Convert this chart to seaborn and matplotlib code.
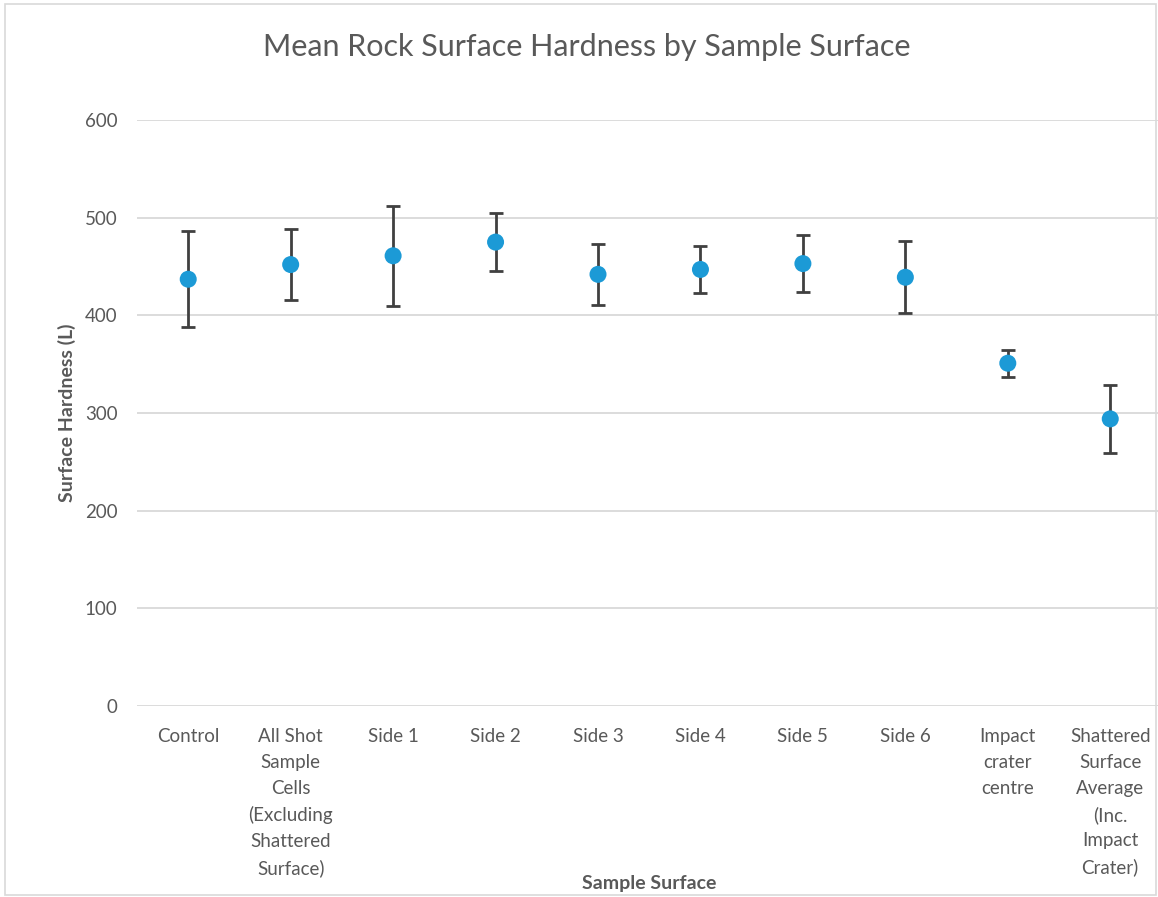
import numpy as np
import pandas as pd
import matplotlib
matplotlib.use("Agg")
import matplotlib.pyplot as plt
import seaborn as sns

# values
surfaces = ["Control",
            "All Shot\nSample\nCells\n(Excluding\nShattered\nSurface)",
            "Side 1", "Side 2", "Side 3", "Side 4", "Side 5", "Side 6",
            "Impact\ncrater\ncentre",
            "Shattered\nSurface\nAverage\n(Inc.\nImpact\nCrater)"]
mean_hardness = [437, 452, 461, 475, 442, 447, 453, 439, 351, 294]
error = [49, 36, 51, 30, 31, 24, 29, 37, 14, 35]

df = pd.DataFrame({"surface": surfaces, "hardness": mean_hardness, "err": error})

sns.set_theme(style="white")
plt.rcParams["font.family"] = ["Lato", "DejaVu Sans"]
grey = "#595959"

fig = plt.figure(figsize=(11.58, 8.97), dpi=100)
ax = fig.add_axes([0.1183, 0.2129, 0.8847, 0.6533])

ax.errorbar(np.arange(len(surfaces)), df["hardness"], yerr=df["err"],
            fmt="none", ecolor="#404040", elinewidth=2, capsize=5, capthick=2, zorder=2)
sns.scatterplot(data=df, x="surface", y="hardness", ax=ax, s=150,
                color="#1C9AD6", edgecolor="none", zorder=3)

ax.set_xlim(-0.5, len(surfaces) - 0.5)
ax.set_ylim(0, 600)
ax.set_yticks(range(0, 601, 100))
ax.yaxis.grid(True, color="#d9d9d9", linewidth=1.3)
ax.set_axisbelow(True)
for s in ax.spines.values():
    s.set_visible(False)

ax.tick_params(axis="y", length=0, pad=14, labelsize=13.5, labelcolor=grey)
ax.tick_params(axis="x", length=0, pad=16, labelsize=13.5, labelcolor=grey)
for lab in ax.get_xticklabels():
    lab.set_linespacing(1.62)
    lab.set_verticalalignment("top")

ax.set_xlabel("Sample Surface", fontsize=14, fontweight="bold", color=grey)
ax.xaxis.set_label_coords(0.5, -0.302)
ax.xaxis.label.set_verticalalignment("center")
ax.set_ylabel("Surface Hardness (L)", fontsize=14, fontweight="bold", color=grey)
ax.yaxis.set_label_coords(-0.06, 0.5)
fig.text(0.507, 0.948, "Mean Rock Surface Hardness by Sample Surface",
         ha="center", va="center", fontsize=22, color=grey)

fig.patches.append(plt.Rectangle((0.004, 0.002), 0.994, 0.993, transform=fig.transFigure,
                                 fill=False, edgecolor="#d9d9d9", linewidth=1.2))

fig.savefig("out.png", dpi=100)
